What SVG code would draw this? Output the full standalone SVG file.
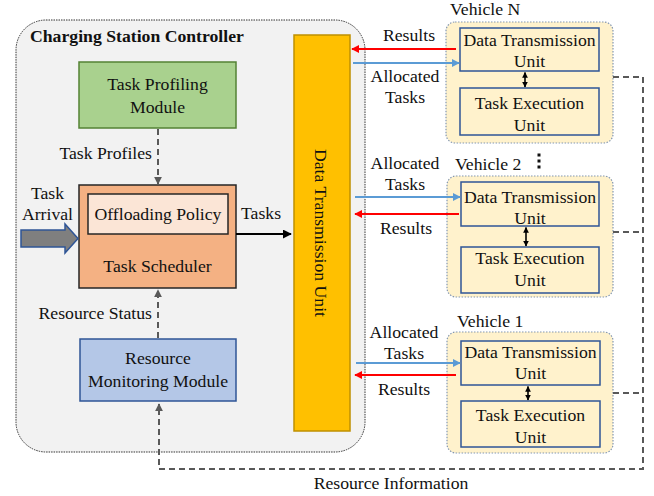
<svg xmlns="http://www.w3.org/2000/svg" width="654" height="496" viewBox="0 0 654 496">
  <style>
    text { font-family: "Liberation Serif", "Times New Roman", serif; font-size: 17.7px; fill: #111; }
    .c { text-anchor: middle; }
    .r { text-anchor: end; }
    .title { font-weight: bold; font-size: 17.7px; }
    .veh { fill: #fff2cc; stroke: #8497b0; stroke-width: 1.2; stroke-dasharray: 1.5 1.5; }
    .unit { fill: #fff2cc; stroke: #2f5597; stroke-width: 1.5; }
    .dash { fill: none; stroke: #595959; stroke-width: 2; stroke-dasharray: 6 4; }
    .red { stroke: #ff0000; stroke-width: 2; fill: none; }
    .blue { stroke: #5b9bd5; stroke-width: 2; fill: none; }
    .blk { stroke: #000; stroke-width: 1.8; fill: none; }
    .dbl { stroke: #000; stroke-width: 1.6; fill: none; }
  </style>
  <defs>
    <marker id="ah-black" viewBox="0 0 10 10" refX="9" refY="5" markerWidth="5" markerHeight="5" orient="auto-start-reverse">
      <path d="M0,0 L10,5 L0,10 z" fill="#000"/>
    </marker>
    <marker id="ah-small" viewBox="0 0 10 10" refX="9" refY="5" markerWidth="3.6" markerHeight="4.2" orient="auto-start-reverse">
      <path d="M0,0 L10,5 L0,10 z" fill="#000"/>
    </marker>
    <marker id="ah-gray" viewBox="0 0 10 10" refX="9" refY="5" markerWidth="4" markerHeight="4" orient="auto">
      <path d="M0,0 L10,5 L0,10 z" fill="#595959"/>
    </marker>
    <marker id="ah-red" viewBox="0 0 10 10" refX="9" refY="5" markerWidth="4" markerHeight="4" orient="auto">
      <path d="M0,0 L10,5 L0,10 z" fill="#ff0000"/>
    </marker>
    <marker id="ah-blue" viewBox="0 0 10 10" refX="9" refY="5" markerWidth="4" markerHeight="4" orient="auto">
      <path d="M0,0 L10,5 L0,10 z" fill="#5b9bd5"/>
    </marker>
  </defs>

  <!-- Charging station controller container -->
  <g id="controller">
    <rect x="16" y="20" width="349" height="432" rx="30" fill="#f2f2f2" stroke="#333" stroke-width="1" stroke-dasharray="1.5 1"/>
    <text class="title" x="30" y="42">Charging Station Controller</text>
  </g>

  <g id="task-profiling">
    <rect x="79" y="62" width="157" height="66" fill="#a9d18e" stroke="#548235" stroke-width="1.5"/>
    <text class="c" x="157.5" y="90">Task Profiling</text>
    <text class="c" x="157.5" y="113">Module</text>
  </g>

  <g id="task-scheduler">
    <rect x="79" y="185" width="157" height="103" fill="#f4b183" stroke="#262626" stroke-width="1.5"/>
    <rect x="88" y="194" width="140" height="40" fill="#fbe5d6" stroke="#262626" stroke-width="1.5"/>
    <text class="c" x="158" y="220">Offloading Policy</text>
    <text class="c" x="157.5" y="272">Task Scheduler</text>
  </g>

  <g id="resource-monitoring">
    <rect x="80" y="339" width="156" height="62" fill="#b4c7e7" stroke="#2f5597" stroke-width="1.5"/>
    <text class="c" x="158" y="364">Resource</text>
    <text class="c" x="158" y="387">Monitoring Module</text>
  </g>

  <g id="data-transmission-unit">
    <rect x="294" y="35" width="56" height="396" fill="#ffc000" stroke="#bf9000" stroke-width="1.5"/>
    <text class="c" transform="translate(315 233) rotate(90)">Data Transmission Unit</text>
  </g>

  <g id="task-arrival">
    <path d="M21,230 H65 V224 L78,238.5 L65,253 V247 H21 Z" fill="#7f7f7f" stroke="#2f5597" stroke-width="1.5"/>
    <text class="c" x="47.5" y="199">Task</text>
    <text class="c" x="47.5" y="220">Arrival</text>
  </g>

  <!-- Vehicle N -->
  <g id="vehicle-n">
    <text x="450" y="15">Vehicle N</text>
    <rect class="veh" x="446" y="22" width="167" height="121" rx="9"/>
    <rect class="unit" x="460" y="28" width="139" height="43"/>
    <text class="c" x="529.5" y="46">Data Transmission</text>
    <text class="c" x="529.5" y="67">Unit</text>
    <rect class="unit" x="460" y="88" width="139" height="47"/>
    <text class="c" x="529.5" y="109">Task Execution</text>
    <text class="c" x="529.5" y="131">Unit</text>
  </g>

  <!-- Vehicle 2 -->
  <g id="vehicle-2">
    <text x="455" y="170">Vehicle 2</text>
    <rect x="537.5" y="153.5" width="3" height="3" fill="#111"/>
    <rect x="537.5" y="159.5" width="3" height="3" fill="#111"/>
    <rect x="537.5" y="165.5" width="3" height="3" fill="#111"/>
    <rect class="veh" x="447" y="176" width="166" height="121" rx="9"/>
    <rect class="unit" x="461" y="182" width="138" height="44"/>
    <text class="c" x="530" y="203">Data Transmission</text>
    <text class="c" x="530" y="224">Unit</text>
    <rect class="unit" x="461" y="247" width="138" height="46"/>
    <text class="c" x="530" y="264">Task Execution</text>
    <text class="c" x="530" y="286">Unit</text>
  </g>

  <!-- Vehicle 1 -->
  <g id="vehicle-1">
    <text x="457" y="327">Vehicle 1</text>
    <rect class="veh" x="447" y="332" width="166" height="121" rx="9"/>
    <rect class="unit" x="461" y="341" width="139" height="44"/>
    <text class="c" x="530.5" y="358">Data Transmission</text>
    <text class="c" x="530.5" y="379">Unit</text>
    <rect class="unit" x="461" y="401" width="139" height="46"/>
    <text class="c" x="530.5" y="421">Task Execution</text>
    <text class="c" x="530.5" y="443">Unit</text>
  </g>

  <g id="connectors">
    <!-- internal flows -->
    <line class="dash" x1="158" y1="129" x2="158" y2="184" marker-end="url(#ah-gray)"/>
    <line class="dash" x1="158" y1="338" x2="158" y2="290" marker-end="url(#ah-gray)"/>
    <line class="blk" x1="236" y1="234" x2="291" y2="234" marker-end="url(#ah-black)"/>

    <!-- resource information feedback loop -->
    <polyline class="dash" points="613,77 643,77 643,469 159,469 159,404" marker-end="url(#ah-gray)"/>
    <line class="dash" x1="613" y1="232" x2="643" y2="232"/>
    <line class="dash" x1="613" y1="393" x2="643" y2="393"/>

    <!-- vehicle N links -->
    <line class="red" x1="456" y1="49" x2="352" y2="49" marker-end="url(#ah-red)"/>
    <line class="blue" x1="353" y1="63" x2="459" y2="63" marker-end="url(#ah-blue)"/>
    <line class="dbl" x1="525" y1="72.5" x2="525" y2="87" marker-start="url(#ah-small)" marker-end="url(#ah-small)"/>

    <!-- vehicle 2 links -->
    <line class="blue" x1="355" y1="197" x2="460" y2="197" marker-end="url(#ah-blue)"/>
    <line class="red" x1="459" y1="214" x2="355" y2="214" marker-end="url(#ah-red)"/>
    <line class="dbl" x1="526" y1="227.5" x2="526" y2="246" marker-start="url(#ah-small)" marker-end="url(#ah-small)"/>

    <!-- vehicle 1 links -->
    <line class="blue" x1="356" y1="363" x2="460" y2="363" marker-end="url(#ah-blue)"/>
    <line class="red" x1="456" y1="375" x2="355" y2="375" marker-end="url(#ah-red)"/>
    <line class="dbl" x1="528" y1="386.5" x2="528" y2="400" marker-start="url(#ah-small)" marker-end="url(#ah-small)"/>
  </g>

  <g id="labels">
    <text class="r" x="152" y="159">Task Profiles</text>
    <text class="r" x="152" y="319">Resource Status</text>
    <text x="241" y="219">Tasks</text>
    <text class="c" x="409" y="41">Results</text>
    <text class="c" x="405" y="82">Allocated</text>
    <text class="c" x="405" y="103">Tasks</text>
    <text class="c" x="405" y="169">Allocated</text>
    <text class="c" x="405" y="190">Tasks</text>
    <text class="c" x="406" y="234">Results</text>
    <text class="c" x="404" y="338">Allocated</text>
    <text class="c" x="404" y="359">Tasks</text>
    <text class="c" x="404" y="395">Results</text>
    <text class="c" x="391" y="489">Resource Information</text>
  </g>
</svg>
